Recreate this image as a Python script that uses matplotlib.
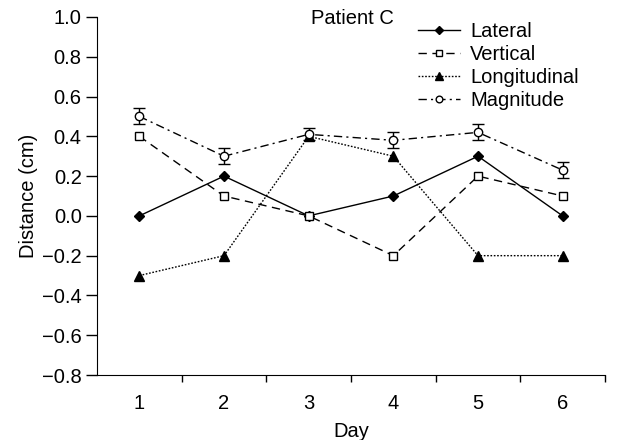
import matplotlib
matplotlib.use("Agg")
import matplotlib.pyplot as plt
from matplotlib.lines import Line2D

plt.rcParams['font.family'] = ['Liberation Sans', 'DejaVu Sans']

days = [1, 2, 3, 4, 5, 6]
lateral = [0.0, 0.2, 0.0, 0.1, 0.3, 0.0]
vertical = [0.4, 0.1, 0.0, -0.2, 0.2, 0.1]
longitudinal = [-0.3, -0.2, 0.4, 0.3, -0.2, -0.2]
magnitude = [0.50, 0.30, 0.41, 0.38, 0.42, 0.23]
magnitude_err = [0.04, 0.04, 0.03, 0.04, 0.04, 0.04]
yticks = [-0.8, -0.6, -0.4, -0.2, 0.0, 0.2, 0.4, 0.6, 0.8, 1.0]
series_names = ['Lateral', 'Vertical', 'Longitudinal', 'Magnitude']

FS = 14.5

# (linestyle, marker, marker size, face colour) per series
styles = [
    ('-', 'D', 5.5, 'black'),
    ((0, (6, 4)), 's', 6, 'white'),
    ((0, (1.2, 1.2)), '^', 6.5, 'black'),
    ((0, (6, 3, 1.5, 3)), 'o', 6, 'white'),
]

fig = plt.figure(figsize=(6.18, 4.4), dpi=100)
ax = fig.add_axes([97 / 618, 65 / 440, 508 / 618, 358 / 440])

for vals, (ls, mk, ms, fc) in zip([lateral, vertical, longitudinal], styles[:3]):
    ax.plot(days, vals, color='black', linestyle=ls, linewidth=1,
            marker=mk, markersize=ms, markerfacecolor=fc)
ls, mk, ms, fc = styles[3]
ax.errorbar(days, magnitude, yerr=magnitude_err, color='black',
            linestyle=ls, linewidth=1, marker=mk, markersize=ms,
            markerfacecolor=fc, capsize=4.5, elinewidth=1, capthick=1)

ax.set_xlim(0.5, 6.5)
ax.set_ylim(-0.8, 1.0)
# category-style x axis: ticks at boundaries, labels centred
ax.set_xticks([d + 0.5 for d in days])
ax.set_xticklabels([])
ax.set_xticks(days, minor=True)
ax.set_xticklabels([str(d) for d in days], minor=True)
ax.tick_params(axis='x', which='minor', length=0, pad=14, labelsize=FS)
ax.tick_params(axis='x', which='major', direction='out', length=5, width=1)
ax.set_yticks(yticks)
ax.set_yticklabels([f"{v:.1f}".replace('-', '\u2212') for v in yticks])
ax.tick_params(axis='y', direction='out', length=8, width=1, labelsize=FS, pad=3)
ax.spines['top'].set_visible(False)
ax.spines['right'].set_visible(False)
ax.set_xlabel('Day', fontsize=FS, labelpad=6)
ax.set_ylabel('Distance (cm)', fontsize=FS, labelpad=3)

fig.text(352 / 618, 1 - 18 / 440, 'Patient C', ha='center', va='center', fontsize=FS)

handles = [Line2D([], [], color='black', linestyle=ls, linewidth=1, marker=mk,
                  markersize=ms * 0.8, markerfacecolor=fc)
           for ls, mk, ms, fc in styles]
fig.legend(handles, series_names, loc='upper left',
           bbox_to_anchor=(418 / 618, 1 - 22 / 440), frameon=False,
           fontsize=FS, handlelength=2.1, handletextpad=0.5, labelspacing=0.2,
           borderpad=0, borderaxespad=0)

fig.savefig('out.png', dpi=100)
